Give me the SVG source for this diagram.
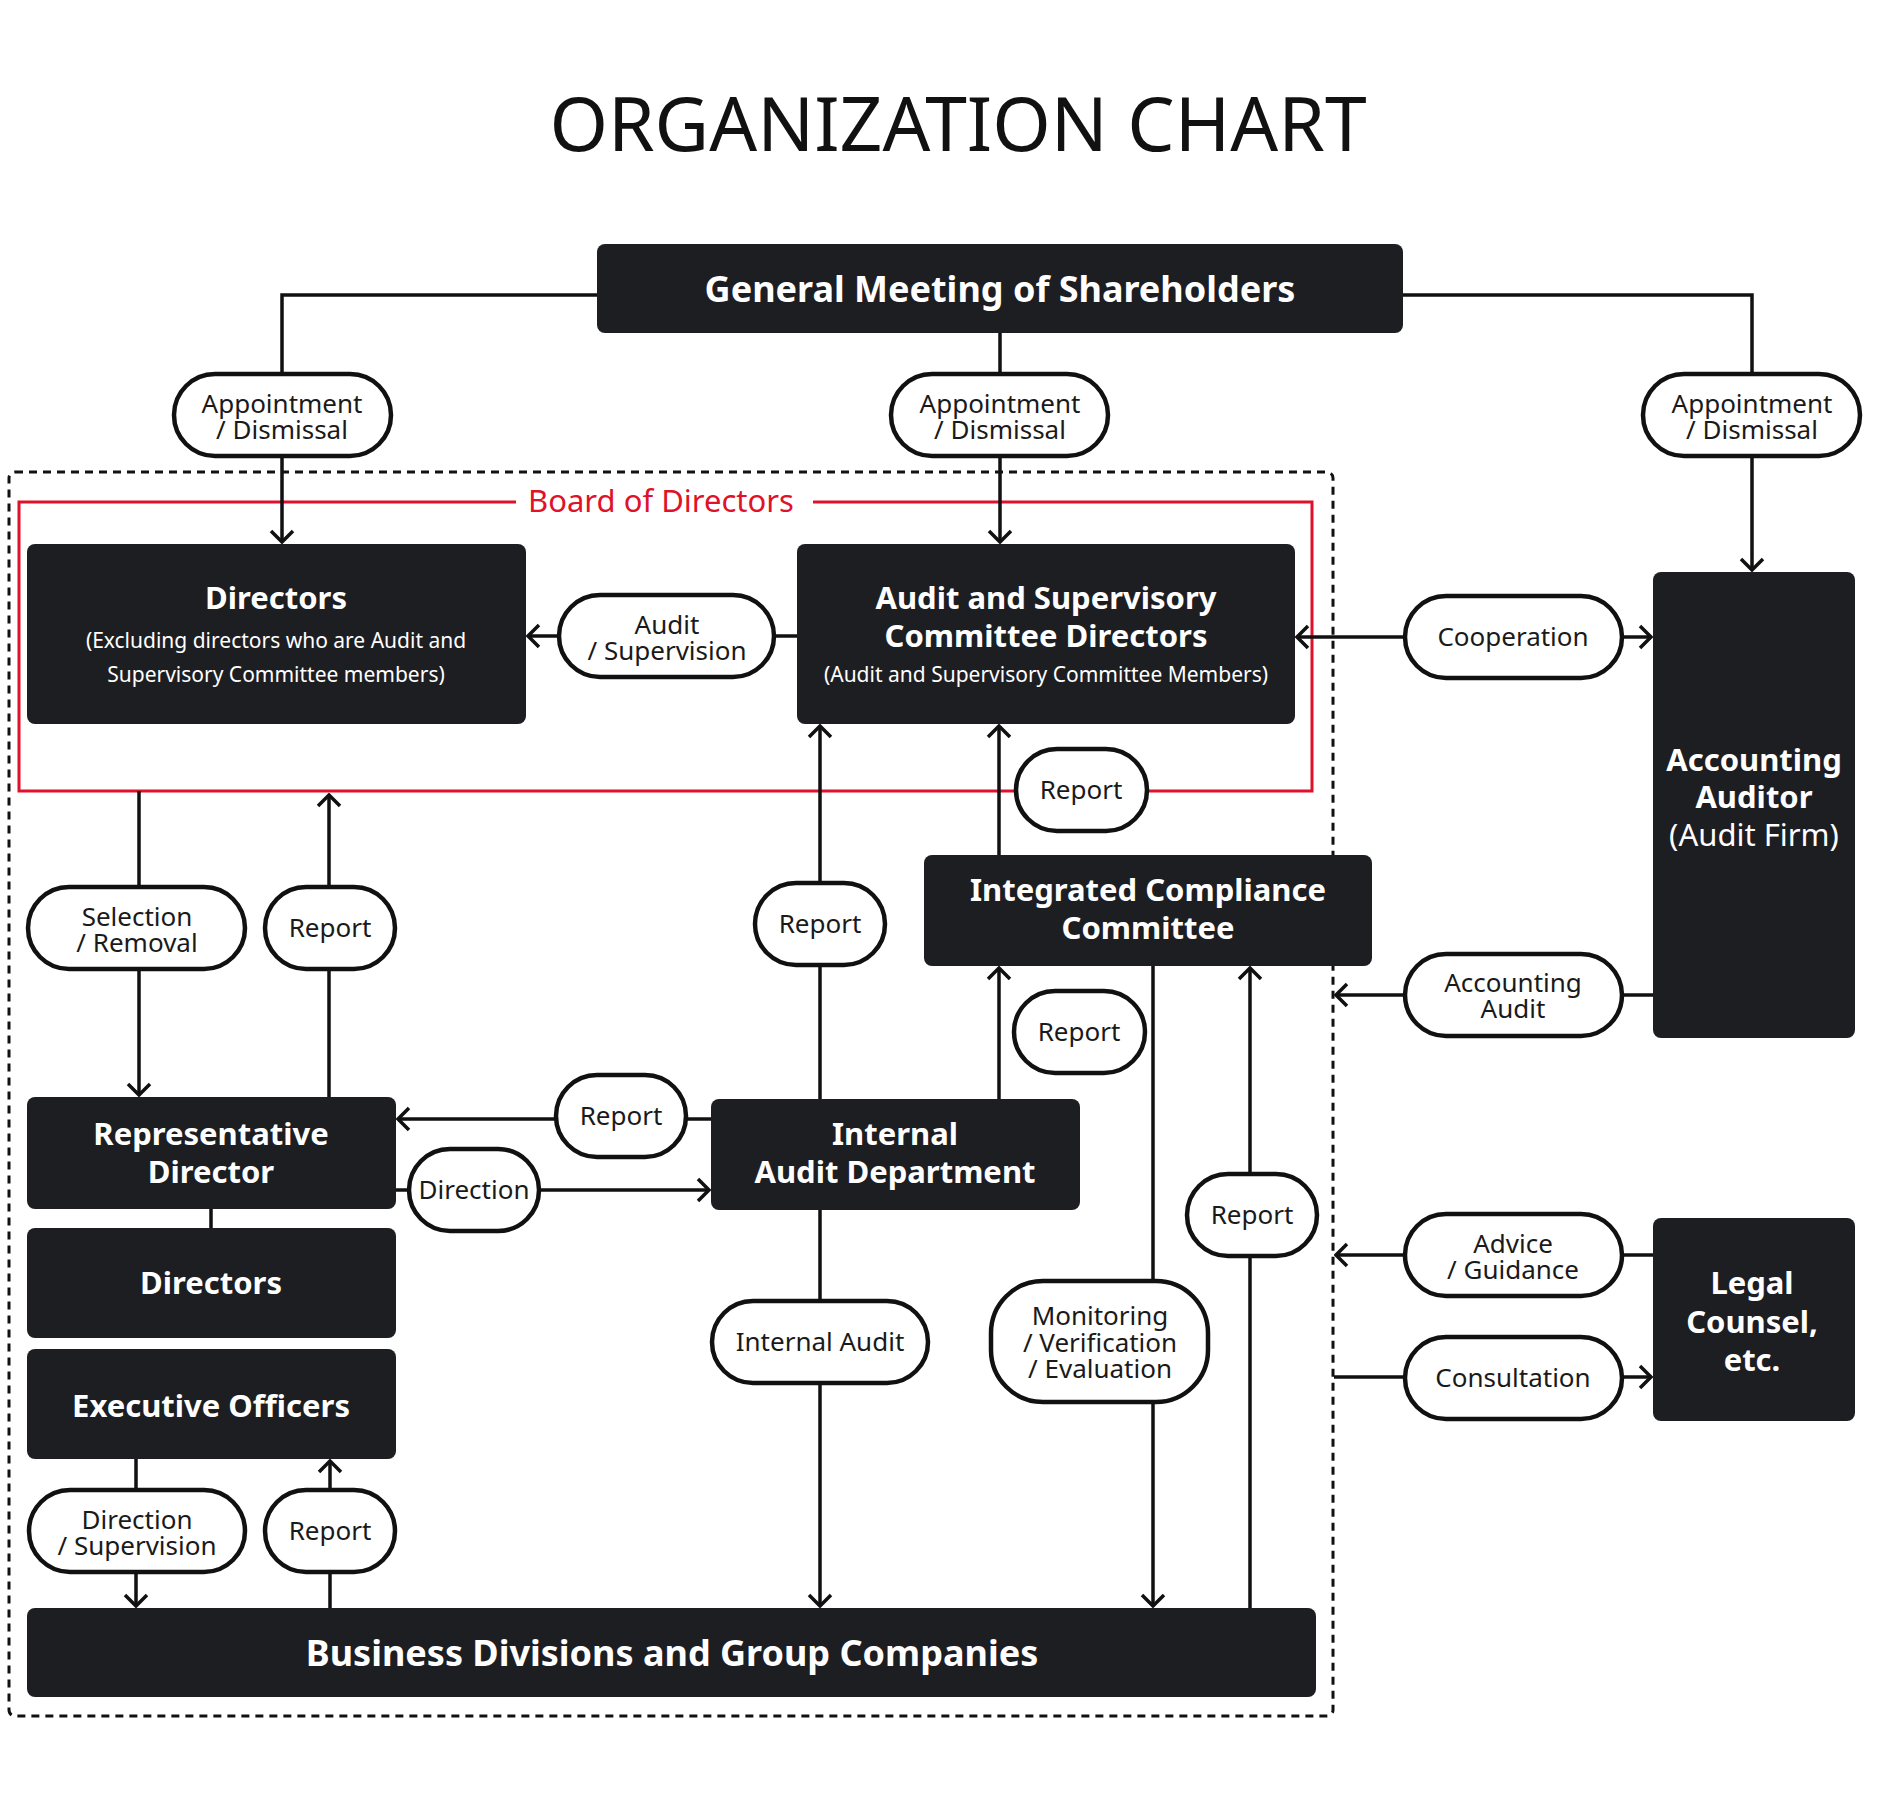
<svg xmlns="http://www.w3.org/2000/svg" width="1888" height="1818" viewBox="0 0 1888 1818">
<defs>
<marker id="arr" viewBox="-14 -14 16 28" refX="0" refY="0" markerWidth="16" markerHeight="28" markerUnits="userSpaceOnUse" orient="auto">
<path d="M-11,-11 L0,0 L-11,11" fill="none" stroke="#111" stroke-width="3.5" stroke-linejoin="miter"/>
</marker>
<style>
.box{fill:#1d1e22}
.pill{fill:#fff;stroke:#111;stroke-width:4.5}
.bt{font-family:"Noto Sans","Open Sans",sans-serif;font-weight:700;fill:#fff;text-anchor:middle;font-size:31px}
.bl{font-size:36px}
.bs{font-family:"Noto Sans","Open Sans",sans-serif;font-weight:400;fill:#fff;text-anchor:middle;font-size:21px}
.pt{font-family:"Noto Sans","Open Sans",sans-serif;font-weight:400;fill:#1a1a1a;text-anchor:middle;font-size:26px}
.ln{fill:none;stroke:#111;stroke-width:3.5}
.ar{marker-end:url(#arr)}
</style>
</defs>
<rect width="1888" height="1818" fill="#fff"/>
<text x="958" y="151" font-family="'Noto Sans','Open Sans',sans-serif" font-size="75" fill="#111" text-anchor="middle">ORGANIZATION CHART</text>

<g id="frames">
<rect x="9" y="472" width="1324" height="1244" rx="6" fill="none" stroke="#111" stroke-width="3" stroke-dasharray="8 6"/>
<path d="M516,502 H19 V791 H1312 V502 H813" fill="none" stroke="#e0112b" stroke-width="3"/>
<text x="661" y="512" font-family="'Noto Sans','Open Sans',sans-serif" font-size="31" fill="#e0112b" text-anchor="middle">Board of Directors</text>
</g>

<g id="connectors">
<path class="ln ar" d="M597,295 H282 V542"/>
<path class="ln ar" d="M1000,333 V542"/>
<path class="ln ar" d="M1403,295 H1752 V570"/>
<path class="ln ar" d="M797,636 H528"/>
<path class="ln ar" d="M1500,637 H1297"/>
<path class="ln ar" d="M1500,637 H1651"/>
<path class="ln ar" d="M139,791 V1095"/>
<path class="ln ar" d="M329,1097 V795"/>
<path class="ln ar" d="M711,1119 H398"/>
<path class="ln ar" d="M396,1190 H709"/>
<path class="ln ar" d="M820,1099 V726"/>
<path class="ln ar" d="M999,1099 V968"/>
<path class="ln ar" d="M999,855 V726"/>
<path class="ln ar" d="M1153,966 V1606"/>
<path class="ln ar" d="M1250,1608 V968"/>
<path class="ln ar" d="M820,1210 V1606"/>
<path class="ln" d="M211,1209 V1228"/>
<path class="ln ar" d="M136,1459 V1606"/>
<path class="ln ar" d="M330,1608 V1461"/>
<path class="ln ar" d="M1653,995 H1336"/>
<path class="ln ar" d="M1653,1255 H1336"/>
<path class="ln ar" d="M1334,1377 H1651"/>
</g>

<g id="labels">
<rect class="pill" x="174" y="374" width="217" height="82" rx="41"/>
<text class="pt" x="282" y="413">Appointment</text><text class="pt" x="282" y="439">/ Dismissal</text>
<rect class="pill" x="891" y="374" width="217" height="82" rx="41"/>
<text class="pt" x="1000" y="413">Appointment</text><text class="pt" x="1000" y="439">/ Dismissal</text>
<rect class="pill" x="1643" y="374" width="217" height="82" rx="41"/>
<text class="pt" x="1752" y="413">Appointment</text><text class="pt" x="1752" y="439">/ Dismissal</text>
<rect class="pill" x="559" y="595" width="215" height="82" rx="41"/>
<text class="pt" x="667" y="634">Audit</text><text class="pt" x="667" y="660">/ Supervision</text>
<rect class="pill" x="1405" y="596" width="217" height="82" rx="41"/>
<text class="pt" x="1513" y="646">Cooperation</text>
<rect class="pill" x="1016" y="749" width="131" height="82" rx="41"/>
<text class="pt" x="1081" y="799">Report</text>
<rect class="pill" x="755" y="883" width="130" height="82" rx="41"/>
<text class="pt" x="820" y="933">Report</text>
<rect class="pill" x="1014" y="991" width="131" height="82" rx="41"/>
<text class="pt" x="1079" y="1041">Report</text>
<rect class="pill" x="28" y="887" width="217" height="82" rx="41"/>
<text class="pt" x="137" y="926">Selection</text><text class="pt" x="137" y="952">/ Removal</text>
<rect class="pill" x="265" y="887" width="130" height="82" rx="41"/>
<text class="pt" x="330" y="937">Report</text>
<rect class="pill" x="556" y="1075" width="130" height="82" rx="41"/>
<text class="pt" x="621" y="1125">Report</text>
<rect class="pill" x="409" y="1149" width="130" height="82" rx="41"/>
<text class="pt" x="474" y="1199">Direction</text>
<rect class="pill" x="1187" y="1174" width="130" height="82" rx="41"/>
<text class="pt" x="1252" y="1224">Report</text>
<rect class="pill" x="712" y="1301" width="216" height="82" rx="41"/>
<text class="pt" x="820" y="1351">Internal Audit</text>
<rect class="pill" x="991" y="1281" width="217" height="121" rx="52"/>
<text class="pt" x="1100" y="1325">Monitoring</text><text class="pt" x="1100" y="1352">/ Verification</text><text class="pt" x="1100" y="1378">/ Evaluation</text>
<rect class="pill" x="1405" y="954" width="217" height="82" rx="41"/>
<text class="pt" x="1513" y="992">Accounting</text><text class="pt" x="1513" y="1018">Audit</text>
<rect class="pill" x="1405" y="1214" width="217" height="82" rx="41"/>
<text class="pt" x="1513" y="1253">Advice</text><text class="pt" x="1513" y="1279">/ Guidance</text>
<rect class="pill" x="1405" y="1337" width="217" height="82" rx="41"/>
<text class="pt" x="1513" y="1387">Consultation</text>
<rect class="pill" x="29" y="1490" width="216" height="82" rx="41"/>
<text class="pt" x="137" y="1529">Direction</text><text class="pt" x="137" y="1555">/ Supervision</text>
<rect class="pill" x="265" y="1490" width="130" height="82" rx="41"/>
<text class="pt" x="330" y="1540">Report</text>
</g>

<g id="gm"><rect class="box" x="597" y="244" width="806" height="89" rx="8"/>
<text class="bt bl" x="1000" y="302">General Meeting of Shareholders</text></g>
<g id="directors"><rect class="box" x="27" y="544" width="499" height="180" rx="8"/>
<text class="bt" x="276" y="609">Directors</text>
<text class="bs" x="276" y="648">(Excluding directors who are Audit and</text>
<text class="bs" x="276" y="682">Supervisory Committee members)</text></g>
<g id="asc"><rect class="box" x="797" y="544" width="498" height="180" rx="8"/>
<text class="bt" x="1046" y="609">Audit and Supervisory</text>
<text class="bt" x="1046" y="647">Committee Directors</text>
<text class="bs" x="1046" y="682">(Audit and Supervisory Committee Members)</text></g>
<g id="accounting-auditor"><rect class="box" x="1653" y="572" width="202" height="466" rx="8"/>
<text class="bt" x="1754" y="771">Accounting</text>
<text class="bt" x="1754" y="808">Auditor</text>
<text class="bt" x="1754" y="846" style="font-weight:400">(Audit Firm)</text></g>
<g id="icc"><rect class="box" x="924" y="855" width="448" height="111" rx="8"/>
<text class="bt" x="1148" y="901">Integrated Compliance</text>
<text class="bt" x="1148" y="939">Committee</text></g>
<g id="iad"><rect class="box" x="711" y="1099" width="369" height="111" rx="8"/>
<text class="bt" x="895" y="1145">Internal</text>
<text class="bt" x="895" y="1183">Audit Department</text></g>
<g id="rep-director"><rect class="box" x="27" y="1097" width="369" height="112" rx="8"/>
<text class="bt" x="211" y="1145">Representative</text>
<text class="bt" x="211" y="1183">Director</text></g>
<g id="directors2"><rect class="box" x="27" y="1228" width="369" height="110" rx="8"/>
<text class="bt" x="211" y="1294">Directors</text></g>
<g id="exec-officers"><rect class="box" x="27" y="1349" width="369" height="110" rx="8"/>
<text class="bt" x="211" y="1417">Executive Officers</text></g>
<g id="business"><rect class="box" x="27" y="1608" width="1289" height="89" rx="8"/>
<text class="bt bl" x="672" y="1666">Business Divisions and Group Companies</text></g>
<g id="legal"><rect class="box" x="1653" y="1218" width="202" height="203" rx="8"/>
<text class="bt" x="1752" y="1294">Legal</text>
<text class="bt" x="1752" y="1333">Counsel,</text>
<text class="bt" x="1752" y="1371">etc.</text></g>
</svg>
